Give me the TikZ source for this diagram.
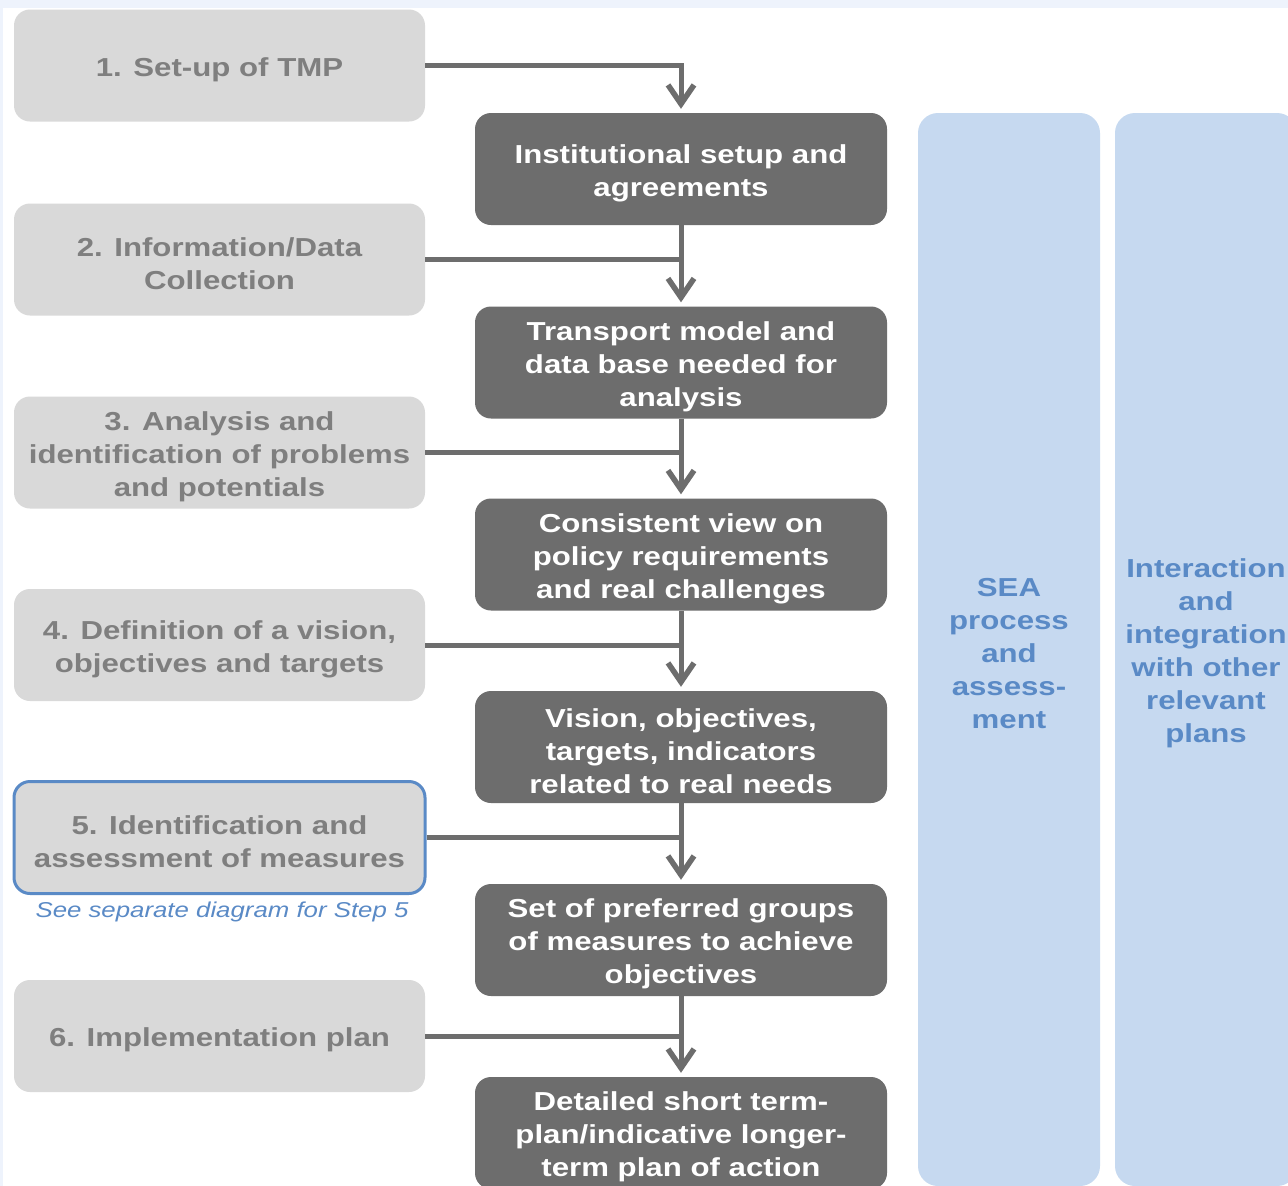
\documentclass[tikz,border=0pt]{standalone}
\usepackage{fontspec}
\setmainfont{Liberation Sans}[FakeStretch=1.2]
\usetikzlibrary{arrows.meta}
\definecolor{bgblue}{HTML}{EEF3FC}
\definecolor{stepfill}{HTML}{D9D9D9}
\definecolor{steptext}{HTML}{7F7F7F}
\definecolor{outfill}{HTML}{6D6D6D}
\definecolor{colfill}{HTML}{C6D9F0}
\definecolor{coltext}{HTML}{5A8AC6}
\newcommand\lowr{\rule{0pt}{27pt}}
\begin{document}
\begin{tikzpicture}[x=1pt,y=-1pt,
    boxfont/.style={font=\fontsize{26}{33}\selectfont\bfseries},
    stepbox/.style={boxfont, fill=stepfill, text=steptext, rounded corners=16pt,
      minimum width=411pt, minimum height=112pt, inner sep=0pt, align=center},
    outbox/.style={boxfont, fill=outfill, text=white, rounded corners=16pt,
      minimum width=412pt, minimum height=112pt, inner sep=0pt, align=center},
    column/.style={boxfont, fill=colfill, text=coltext, rounded corners=20pt,
      minimum height=1073pt, inner sep=0pt, align=center},
    flow/.style={draw=outfill, line width=5pt,
      -{Straight Barb[length=19pt,width=26pt,line width=5.5pt]}, shorten >=4pt},
    feed/.style={draw=outfill, line width=5pt}
  ]
  \clip (0,0) rectangle (1288,1186);
  \fill[bgblue] (0,0) rectangle (1288,1186);
  \fill[white] (3,8) rectangle (1288,1186);

  \node[column, minimum width=182pt] (sea) at (1009,649.5)
    {\lowr SEA\\process\\and\\assess-\\ment};
  \node[column, minimum width=182pt] (inter) at (1206,649.5)
    {\lowr Interaction\\and\\integration\\with other\\relevant\\plans};

  \node[stepbox] (s1) at (219.5,65.5) {\lowr 1. Set-up of TMP};
  \node[stepbox] (s2) at (219.5,259.5) {\lowr 2. Information/Data\\Collection};
  \node[stepbox] (s3) at (219.5,452.5) {\lowr 3. Analysis and\\identification of problems\\and potentials};
  \node[stepbox] (s4) at (219.5,645) {\lowr 4. Definition of a vision,\\objectives and targets};
  \node[stepbox, draw=coltext, line width=3pt] (s5) at (219.5,837.5)
    {\lowr 5. Identification and\\assessment of measures};
  \node[text=coltext, font=\fontsize{21.5}{26}\selectfont\itshape] (note) at (222,912)
    {See separate diagram for Step 5};
  \node[stepbox] (s6) at (219.5,1036) {\lowr 6. Implementation plan};

  \node[outbox] (o1) at (681,169) {\lowr Institutional setup and\\agreements};
  \node[outbox] (o2) at (681,362.5) {\lowr Transport model and\\data base needed for\\analysis};
  \node[outbox] (o3) at (681,554.5) {\lowr Consistent view on\\policy requirements\\and real challenges};
  \node[outbox] (o4) at (681,747) {\lowr Vision, objectives,\\targets, indicators\\related to real needs};
  \node[outbox] (o5) at (681,940) {\lowr Set of preferred groups\\of measures to achieve\\objectives};
  \node[outbox] (o6) at (681,1133) {\lowr Detailed short term-\\plan/indicative longer-\\term plan of action};

  \draw[flow] (s1.east) -| (o1.north);
  \foreach \a/\b in {1/2,2/3,3/4,4/5,5/6} {
    \draw[flow] (o\a.south) -- (o\b.north);
    \draw[feed] (s\b.east) -- (s\b.east -| o\b.north);
  }
\end{tikzpicture}
\end{document}
